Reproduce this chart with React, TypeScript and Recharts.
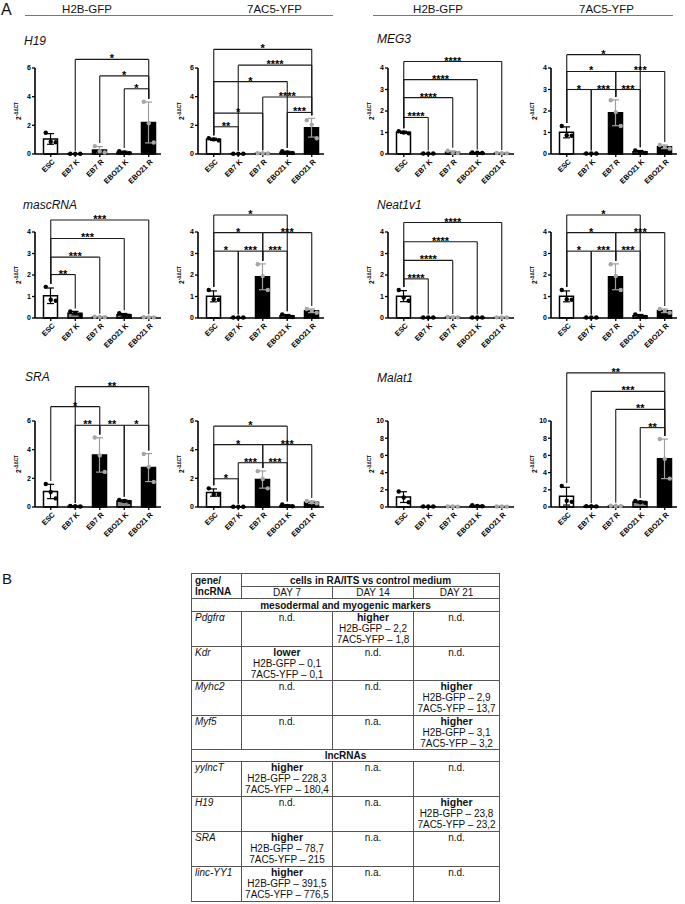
import type { CSSProperties } from "react";
import {
  Bar,
  Cell,
  ComposedChart,
  ErrorBar,
  ReferenceLine,
  Scatter,
  XAxis,
  YAxis,
} from "recharts";

const FONT = "'Liberation Sans', Arial, Helvetica, sans-serif";

const GROUPS = ["ESC", "EB7 K", "EB7 R", "EBO21 K", "EBO21 R"];
// open bar for ESC, grey for K (control), black for R (RA/ITS)
const BAR_FILL = ["#ffffff", "#8a8a8a", "#000000", "#8a8a8a", "#000000"];
const LIGHT_GROUP = [false, false, true, false, true];
const DOT_GREY = "#a6a6a6";
const ERR_GREY = "#9e9e9e";

const TICKS_4 = [0, 1, 2, 3, 4];
const TICKS_6 = [0, 2, 4, 6];
const TICKS_10 = [0, 2, 4, 6, 8, 10];

// [from group, to group, bracket height, stars]
type Sig = [number, number, number, string];

// replicates (2^-ΔΔCT), three per group in GROUPS order
const H19_H2B = [[1.48, 0.85, 0.82], [0.02, 0.02, 0.02], [0.55, 0.2, 0.1], [0.2, 0.1, 0.06], [3.65, 2.15, 0.8]];
const H19_H2B_SIG: Sig[] = [[1, 4, 6.6, "*"], [2, 4, 5.45, "*"], [3, 4, 4.55, "*"]];

const H19_YFP = [[1.1, 1.02, 0.95], [0.02, 0.02, 0.02], [0.06, 0.05, 0.04], [0.2, 0.1, 0.07], [2.35, 2.05, 1.1]];
const H19_YFP_SIG: Sig[] = [
  [0, 4, 7.3, "*"], [1, 4, 6.2, "****"], [0, 3, 5.05, "*"], [2, 4, 3.98, "****"],
  [0, 2, 2.85, "*"], [3, 4, 2.9, "***"], [0, 1, 1.9, "**"],
];

const MEG3_H2B = [[1.06, 1.0, 0.96], [0.02, 0.02, 0.02], [0.15, 0.06, 0.04], [0.07, 0.06, 0.05], [0.05, 0.04, 0.03]];
const MEG3_H2B_SIG: Sig[] = [[0, 1, 1.7, "****"], [0, 2, 2.62, "****"], [0, 3, 3.46, "****"], [0, 4, 4.3, "****"]];

const MEG3_YFP = [[1.3, 0.87, 0.85], [0.02, 0.02, 0.02], [2.5, 1.95, 1.3], [0.17, 0.08, 0.05], [0.42, 0.33, 0.25]];
const MEG3_YFP_SIG: Sig[] = [
  [0, 3, 4.62, "*"], [0, 2, 3.84, "*"], [2, 4, 3.84, "***"],
  [0, 1, 3.0, "*"], [1, 2, 3.0, "***"], [2, 3, 3.0, "***"],
];

const MASC_H2B = [[1.45, 0.85, 0.8], [0.3, 0.24, 0.14], [0.06, 0.05, 0.04], [0.22, 0.12, 0.11], [0.04, 0.03, 0.03]];
const MASC_H2B_SIG: Sig[] = [[0, 1, 2.02, "**"], [0, 2, 2.83, "***"], [0, 3, 3.7, "***"], [0, 4, 4.56, "***"]];

const MASC_YFP = [[1.3, 0.87, 0.85], [0.02, 0.02, 0.02], [2.5, 1.95, 1.3], [0.17, 0.08, 0.05], [0.42, 0.33, 0.25]];
const MASC_YFP_SIG: Sig[] = [
  [0, 3, 4.79, "*"], [0, 2, 3.97, "*"], [2, 4, 3.97, "***"],
  [0, 1, 3.11, "*"], [1, 2, 3.11, "***"], [2, 3, 3.11, "***"],
];

const NEAT_H2B = [[1.3, 0.95, 0.8], [0.02, 0.02, 0.02], [0.05, 0.04, 0.03], [0.02, 0.02, 0.02], [0.03, 0.02, 0.02]];
const NEAT_H2B_SIG: Sig[] = [[0, 1, 1.82, "****"], [0, 2, 2.68, "****"], [0, 3, 3.55, "****"], [0, 4, 4.44, "****"]];

const NEAT_YFP = [[1.3, 0.87, 0.85], [0.02, 0.02, 0.02], [2.5, 1.95, 1.3], [0.17, 0.08, 0.05], [0.42, 0.33, 0.25]];
const NEAT_YFP_SIG: Sig[] = [
  [0, 3, 4.79, "*"], [0, 2, 3.97, "*"], [2, 4, 3.97, "***"],
  [0, 1, 3.11, "*"], [1, 2, 3.11, "***"], [2, 3, 3.11, "***"],
];

const SRA_H2B = [[1.6, 1.05, 0.6], [0.07, 0.05, 0.04], [4.85, 3.6, 2.45], [0.5, 0.42, 0.36], [3.7, 2.8, 1.75]];
const SRA_H2B_SIG: Sig[] = [
  [1, 4, 8.4, "**"], [0, 2, 7.0, "*"], [1, 2, 5.7, "**"], [2, 3, 5.7, "**"], [3, 4, 5.7, "*"],
];

const SRA_YFP = [[1.3, 0.87, 0.85], [0.02, 0.02, 0.02], [2.5, 1.95, 1.3], [0.17, 0.08, 0.05], [0.42, 0.33, 0.25]];
const SRA_YFP_SIG: Sig[] = [
  [0, 3, 5.64, "*"], [0, 2, 4.35, "*"], [2, 4, 4.35, "***"],
  [1, 2, 3.09, "***"], [2, 3, 3.09, "***"], [0, 1, 1.97, "*"],
];

const MALAT_H2B = [[1.8, 1.1, 0.55], [0.05, 0.05, 0.05], [0.06, 0.05, 0.04], [0.2, 0.12, 0.08], [0.06, 0.05, 0.04]];
const MALAT_H2B_SIG: Sig[] = [];

const MALAT_YFP = [[2.45, 0.72, 0.6], [0.1, 0.08, 0.07], [0.15, 0.12, 0.1], [0.7, 0.55, 0.5], [7.9, 5.6, 3.3]];
const MALAT_YFP_SIG: Sig[] = [[0, 4, 15.6, "**"], [1, 4, 13.45, "***"], [2, 4, 11.35, "**"], [3, 4, 9.23, "**"]];

// table B
type Call = string | [string, string, string];
const TABLE_DAYS = ["DAY 7", "DAY 14", "DAY 21"];
const MARKER_GENES = ["Pdgfrα", "Kdr", "Myhc2", "Myf5"];
const MARKER_CALLS: Call[][] = [
  ["n.d.", ["higher", "2,2", "1,8"], "n.d."],
  [["lower", "0,1", "0,1"], "n.d.", "n.d."],
  ["n.d.", "n.d.", ["higher", "2,9", "13,7"]],
  ["n.d.", "n.a.", ["higher", "3,1", "3,2"]],
];
const LNC_GENES = ["yylncT", "H19", "SRA", "linc-YY1"];
const LNC_CALLS: Call[][] = [
  [["higher", "228,3", "180,4"], "n.a.", "n.d."],
  ["n.d.", "n.a.", ["higher", "23,8", "23,2"]],
  [["higher", "78,7", "215"], "n.a.", "n.d."],
  [["higher", "391,5", "776,5"], "n.a.", "n.d."],
];

const AXIS_W = 30;
const PLOT_W = 126;
const PLOT_H = 86;
const PAD_TOP = 64;
const BOTTOM = 40;
const RIGHT = 6;

const avg = (v: number[]) => v.reduce((a, b) => a + b, 0) / v.length;
const stdev = (v: number[]) => {
  const m = avg(v);
  return Math.sqrt(v.reduce((a, b) => a + (b - m) ** 2, 0) / (v.length - 1));
};

function buildRows(reps: number[][]) {
  return GROUPS.map((name, i) => {
    const v = reps[i];
    const m = avg(v);
    const s = stdev(v);
    return {
      name,
      mean: m,
      sdDark: !LIGHT_GROUP[i] && s > 0 ? s : null,
      sdLight: LIGHT_GROUP[i] && s > 0 ? s : null,
      p0: v[0],
      p1: v[1],
      p2: v[2],
      top: Math.max(m + s, ...v),
    };
  });
}

const DOT_DX = [-5, 0, 5];
function dotShape(dx: number) {
  return (p: any) => {
    if (p.cx == null || p.cy == null) return <g />;
    const i = GROUPS.indexOf(p.payload?.name);
    return <circle cx={p.cx + dx} cy={p.cy} r={2.2} fill={LIGHT_GROUP[i] ? DOT_GREY : "#000"} />;
  };
}

const GroupTick = ({ x, y, payload }: any) => (
  <text
    x={x}
    y={y}
    transform={`rotate(-45 ${x} ${y})`}
    textAnchor="end"
    dx={1}
    dy={5.5}
    fontSize={7.3}
    fontWeight={700}
    fontFamily={FONT}
    fill="#000"
  >
    {payload.value}
  </text>
);

const YTitle = (props: any) => {
  const vb = props.viewBox;
  const cx = vb.x + 16;
  const cy = vb.y + vb.height / 2;
  return (
    <text
      x={cx}
      y={cy}
      transform={`rotate(-90 ${cx} ${cy})`}
      textAnchor="middle"
      fontSize={6.5}
      fontWeight={700}
      fontFamily={FONT}
      fill="#000"
    >
      2
      <tspan fontSize={4.6} dy={-2.6}>
        -ΔΔCT
      </tspan>
    </text>
  );
};

interface PanelProps {
  reps: number[][];
  sig: Sig[];
  yMax: number;
  ticks: number[];
  axisX: number;
  y0: number;
}

function Panel({ reps, sig, yMax, ticks, axisX, y0 }: PanelProps) {
  const rows = buildRows(reps);
  const gap = yMax * 0.035;
  const line = { stroke: "#1a1a1a", strokeWidth: 1.1, ifOverflow: "visible" as const };

  const brackets = sig.flatMap(([a, b, y, stars], k) => [
    <ReferenceLine
      key={`h${k}`}
      {...line}
      segment={[{ x: GROUPS[a], y }, { x: GROUPS[b], y }]}
      label={{ value: stars, position: "top", offset: -3, fontSize: 11, fontWeight: 700, fill: "#000" }}
    />,
    <ReferenceLine key={`a${k}`} {...line} segment={[{ x: GROUPS[a], y }, { x: GROUPS[a], y: rows[a].top + gap }]} />,
    <ReferenceLine key={`b${k}`} {...line} segment={[{ x: GROUPS[b], y }, { x: GROUPS[b], y: rows[b].top + gap }]} />,
  ]);

  const axisLine = { stroke: "#000", strokeWidth: 1.6 };
  const tickLine = { stroke: "#000", strokeWidth: 1.3 };

  return (
    <div style={{ position: "absolute", left: axisX - AXIS_W, top: y0 - PLOT_H - PAD_TOP }}>
      <ComposedChart
        width={AXIS_W + PLOT_W + RIGHT}
        height={PAD_TOP + PLOT_H + BOTTOM}
        data={rows}
        margin={{ top: PAD_TOP, right: RIGHT, bottom: 0, left: 0 }}
      >
        <XAxis
          dataKey="name"
          interval={0}
          height={BOTTOM}
          padding={{ left: 3.5, right: 0 }}
          axisLine={axisLine}
          tickLine={tickLine}
          tickSize={3}
          tick={<GroupTick />}
        />
        <YAxis
          width={AXIS_W}
          domain={[0, yMax]}
          ticks={ticks}
          interval={0}
          axisLine={axisLine}
          tickLine={tickLine}
          tickSize={3}
          tickMargin={1}
          tick={{ fontSize: 7, fontWeight: 700, fill: "#000", fontFamily: FONT }}
          label={YTitle}
        />
        <Bar dataKey="mean" barSize={14} stroke="#000" strokeWidth={1.5} isAnimationActive={false}>
          {rows.map((r, i) => (
            <Cell key={r.name} fill={BAR_FILL[i]} />
          ))}
          <ErrorBar dataKey="sdDark" width={3.5} stroke="#000" strokeWidth={1.2} isAnimationActive={false} />
          <ErrorBar dataKey="sdLight" width={3.5} stroke={ERR_GREY} strokeWidth={1.2} isAnimationActive={false} />
        </Bar>
        {["p0", "p1", "p2"].map((k, r) => (
          <Scatter key={k} dataKey={k} isAnimationActive={false} shape={dotShape(DOT_DX[r])} />
        ))}
        {brackets}
      </ComposedChart>
    </div>
  );
}

const PANELS: PanelProps[] = [
  { reps: H19_H2B, sig: H19_H2B_SIG, yMax: 6, ticks: TICKS_6, axisX: 34.5, y0: 154 },
  { reps: H19_YFP, sig: H19_YFP_SIG, yMax: 6, ticks: TICKS_6, axisX: 198, y0: 154 },
  { reps: MEG3_H2B, sig: MEG3_H2B_SIG, yMax: 4, ticks: TICKS_4, axisX: 387.5, y0: 154 },
  { reps: MEG3_YFP, sig: MEG3_YFP_SIG, yMax: 4, ticks: TICKS_4, axisX: 551, y0: 154 },
  { reps: MASC_H2B, sig: MASC_H2B_SIG, yMax: 4, ticks: TICKS_4, axisX: 34.5, y0: 318.3 },
  { reps: MASC_YFP, sig: MASC_YFP_SIG, yMax: 4, ticks: TICKS_4, axisX: 198, y0: 318.3 },
  { reps: NEAT_H2B, sig: NEAT_H2B_SIG, yMax: 4, ticks: TICKS_4, axisX: 387.5, y0: 318.3 },
  { reps: NEAT_YFP, sig: NEAT_YFP_SIG, yMax: 4, ticks: TICKS_4, axisX: 551, y0: 318.3 },
  { reps: SRA_H2B, sig: SRA_H2B_SIG, yMax: 6, ticks: TICKS_6, axisX: 34.5, y0: 506.7 },
  { reps: SRA_YFP, sig: SRA_YFP_SIG, yMax: 6, ticks: TICKS_6, axisX: 198, y0: 506.7 },
  { reps: MALAT_H2B, sig: MALAT_H2B_SIG, yMax: 10, ticks: TICKS_10, axisX: 387.5, y0: 506.7 },
  { reps: MALAT_YFP, sig: MALAT_YFP_SIG, yMax: 10, ticks: TICKS_10, axisX: 551, y0: 506.7 },
];

const HEADERS = [
  { text: "H2B-GFP", x: 87 },
  { text: "7AC5-YFP", x: 274.5 },
  { text: "H2B-GFP", x: 438 },
  { text: "7AC5-YFP", x: 606.5 },
];
const GENE_LABELS = [
  { text: "H19", x: 24, y: 45 },
  { text: "MEG3", x: 377, y: 43 },
  { text: "mascRNA", x: 23, y: 209 },
  { text: "Neat1v1", x: 377, y: 209 },
  { text: "SRA", x: 25, y: 381 },
  { text: "Malat1", x: 377, y: 382 },
];

const cell: CSSProperties = {
  border: "1px solid #555",
  padding: "0 3px",
  verticalAlign: "top",
  textAlign: "center",
  overflow: "hidden",
  whiteSpace: "nowrap",
};
const geneCell: CSSProperties = { ...cell, textAlign: "left", fontStyle: "italic" };
const band: CSSProperties = { ...cell, fontWeight: 700, verticalAlign: "middle", padding: 0 };

function CallCell({ call }: { call: Call }) {
  if (typeof call === "string") return <td style={cell}>{call}</td>;
  const [dir, h2b, yfp] = call;
  return (
    <td style={cell}>
      <div style={{ fontWeight: 700, fontSize: 10.5 }}>{dir}</div>
      <div>H2B-GFP – {h2b}</div>
      <div>7AC5-YFP – {yfp}</div>
    </td>
  );
}

function SummaryTable() {
  const geneRow = (gene: string, calls: Call[], h: number) => (
    <tr key={gene} style={{ height: h }}>
      <td style={geneCell}>{gene}</td>
      {calls.map((c, i) => (
        <CallCell key={i} call={c} />
      ))}
    </tr>
  );
  return (
    <table
      style={{
        position: "absolute",
        left: 191,
        top: 573,
        width: 308,
        borderCollapse: "collapse",
        tableLayout: "fixed",
        border: "1.5px solid #444",
        fontFamily: FONT,
        fontSize: 10,
        lineHeight: "11px",
        color: "#111",
      }}
    >
      <colgroup>
        <col style={{ width: 50 }} />
        <col style={{ width: 91 }} />
        <col style={{ width: 81 }} />
        <col style={{ width: 86 }} />
      </colgroup>
      <tbody>
        <tr style={{ height: 13 }}>
          <td rowSpan={2} style={{ ...cell, textAlign: "left", fontWeight: 700, paddingTop: 1 }}>
            gene/
            <br />
            lncRNA
          </td>
          <td colSpan={3} style={band}>
            cells in RA/ITS vs control medium
          </td>
        </tr>
        <tr style={{ height: 12 }}>
          {TABLE_DAYS.map((d) => (
            <td key={d} style={{ ...cell, verticalAlign: "middle", padding: 0 }}>
              {d}
            </td>
          ))}
        </tr>
        <tr style={{ height: 13 }}>
          <td colSpan={4} style={band}>
            mesodermal and myogenic markers
          </td>
        </tr>
        {MARKER_GENES.map((g, i) => geneRow(g, MARKER_CALLS[i], 34.6))}
        <tr style={{ height: 12 }}>
          <td colSpan={4} style={band}>
            lncRNAs
          </td>
        </tr>
        {LNC_GENES.map((g, i) => geneRow(g, LNC_CALLS[i], 35))}
      </tbody>
    </table>
  );
}

export default function App() {
  return (
    <div style={{ position: "absolute", left: 0, top: 0, width: 685, height: 904, background: "#fff", fontFamily: FONT }}>
      <svg width={685} height={904} style={{ position: "absolute", left: 0, top: 0 }}>
        <text x={1} y={15} fontSize={16} fontFamily={FONT} fill="#111">
          A
        </text>
        <text x={2} y={584} fontSize={15} fontFamily={FONT} fill="#111">
          B
        </text>
        {HEADERS.map((h, i) => (
          <text key={i} x={h.x} y={12.5} textAnchor="middle" fontSize={11.5} fontFamily={FONT} fill="#111">
            {h.text}
          </text>
        ))}
        <line x1={25} x2={333} y1={15.5} y2={15.5} stroke="#777" strokeWidth={1} />
        <line x1={373} x2={673} y1={15.5} y2={15.5} stroke="#777" strokeWidth={1} />
        {GENE_LABELS.map((g) => (
          <text key={g.text} x={g.x} y={g.y} fontSize={12} fontStyle="italic" fontFamily={FONT} fill="#111">
            {g.text}
          </text>
        ))}
      </svg>
      {PANELS.map((p, i) => (
        <Panel key={i} {...p} />
      ))}
      <SummaryTable />
    </div>
  );
}
